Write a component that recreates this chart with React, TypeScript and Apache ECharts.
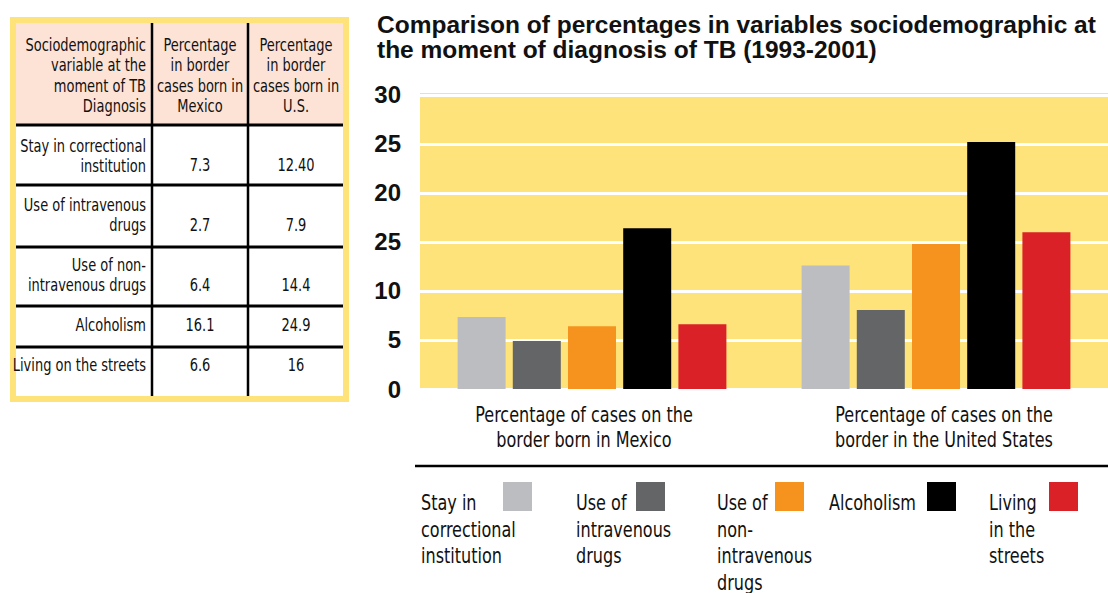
import React, { useEffect, useRef } from "react";
import * as echarts from "echarts";

// ---------- Data ----------
const categories = [
  "Percentage of cases on the\nborder born in Mexico",
  "Percentage of cases on the\nborder in the United States",
];
const seriesNames = [
  "Stay in correctional institution",
  "Use of intravenous drugs",
  "Use of non-intravenous drugs",
  "Alcoholism",
  "Living in the streets",
];
const legendLabels = [
  "Stay in\ncorrectional\ninstitution",
  "Use of\nintravenous\ndrugs",
  "Use of\nnon-\nintravenous\ndrugs",
  "Alcoholism",
  "Living\nin the\nstreets",
];
const mexicoValues = [7.35, 4.9, 6.4, 16.4, 6.6];
const usValues = [12.6, 8.05, 14.8, 25.2, 16.0];
const yTickValues = [0, 5, 10, 15, 20, 25, 30];
const yTickLabels = ["0", "5", "10", "25", "20", "25", "30"];

const titleText =
  "Comparison of percentages in variables sociodemographic at\nthe moment of diagnosis of TB (1993-2001)";

const tableHeaders = [
  "Sociodemographic\nvariable at the\nmoment of TB\nDiagnosis",
  "Percentage\nin border\ncases born in\nMexico",
  "Percentage\nin border\ncases born in\nU.S.",
];
const tableRowLabels = [
  "Stay in correctional\ninstitution",
  "Use of intravenous\ndrugs",
  "Use of non-\nintravenous drugs",
  "Alcoholism",
  "Living on the streets",
];
const tableMexico = ["7.3", "2.7", "6.4", "16.1", "6.6"];
const tableUS = ["12.40", "7.9", "14.4", "24.9", "16"];

// ---------- Styles ----------
const colors = ["#BCBDC0", "#646567", "#F6931F", "#000000", "#DA2128"];
const NARROW = "'Liberation Sans Narrow', 'DejaVu Sans Condensed', 'Roboto', sans-serif";
const BOLD = "'Liberation Sans', 'DejaVu Sans', sans-serif";
const SX = 0.85;

function narrowText(x: number, y: number, text: string, style: any): any {
  return {
    type: "text",
    x,
    y,
    scaleX: SX,
    style: { fontFamily: NARROW, fill: "#111", text, ...style },
  };
}

function buildTable(): any[] {
  const els: any[] = [];
  els.push({ type: "rect", shape: { x: 10, y: 17, width: 339, height: 385 }, style: { fill: "#FEE37A" } });
  els.push({ type: "rect", shape: { x: 16, y: 23, width: 327, height: 373 }, style: { fill: "#FFFFFF" } });
  els.push({ type: "rect", shape: { x: 16, y: 23, width: 327, height: 102 }, style: { fill: "#FDE3D6" } });
  const rowLines = [125, 185, 247, 306, 347];
  rowLines.forEach((y) =>
    els.push({ type: "line", shape: { x1: 16, y1: y, x2: 343, y2: y }, style: { stroke: "#000", lineWidth: 3 } })
  );
  [152, 248].forEach((x) =>
    els.push({ type: "line", shape: { x1: x, y1: 23, x2: x, y2: 396 }, style: { stroke: "#000", lineWidth: 2.5 } })
  );
  const font = { fontSize: 17, lineHeight: 20.3 };
  els.push(narrowText(146, 35, tableHeaders[0], { ...font, align: "right", verticalAlign: "top" }));
  els.push(narrowText(200, 35, tableHeaders[1], { ...font, align: "center", verticalAlign: "top" }));
  els.push(narrowText(296, 35, tableHeaders[2], { ...font, align: "center", verticalAlign: "top" }));
  const labelTops = [136, 195, 255, 315, 355];
  const valueY = [165, 225, 285, 325, 365];
  tableRowLabels.forEach((lab, i) => {
    els.push(narrowText(146, labelTops[i], lab, { ...font, align: "right", verticalAlign: "top" }));
    els.push(narrowText(200, valueY[i], tableMexico[i], { ...font, align: "center", verticalAlign: "middle" }));
    els.push(narrowText(296, valueY[i], tableUS[i], { ...font, align: "center", verticalAlign: "middle" }));
  });
  return els;
}

function buildCategoryLabels(): any[] {
  const centers = [584, 944];
  return categories.map((c, i) =>
    narrowText(centers[i], 402, c, { fontSize: 21, lineHeight: 25.5, align: "center", verticalAlign: "top" })
  );
}

function buildLegend(): any[] {
  const els: any[] = [];
  const textX = [421, 576, 717, 829, 989];
  const boxX = [503, 636, 775, 927, 1049];
  legendLabels.forEach((lab, i) => {
    els.push({ type: "rect", shape: { x: boxX[i], y: 482, width: 29, height: 29 }, style: { fill: colors[i] } });
    els.push(narrowText(textX[i], 490, lab, { fontSize: 21, lineHeight: 26.5, align: "left", verticalAlign: "top" }));
  });
  return els;
}

export default function App() {
  const ref = useRef<HTMLDivElement>(null);
  useEffect(() => {
    if (!ref.current) return;
    const chart = echarts.init(ref.current, undefined, { renderer: "svg" });
    const option: any = {
      animation: false,
      backgroundColor: "#FFFFFF",
      title: {
        text: titleText,
        left: 372,
        top: 7,
        textStyle: { fontFamily: BOLD, fontWeight: "bold", fontSize: 24.5, lineHeight: 25, color: "#111" },
      },
      grid: {
        left: 420,
        right: -5,
        top: 91,
        bottom: 204,
        show: true,
        backgroundColor: "#FEE37A",
        borderWidth: 0,
        containLabel: false,
      },
      xAxis: {
        type: "category",
        data: categories,
        axisLine: { show: false },
        axisTick: { show: false },
        axisLabel: { show: false },
      },
      yAxis: {
        type: "value",
        min: 0,
        max: 30.4,
        interval: 5,
        axisLine: { show: false },
        axisTick: { show: false },
        splitLine: { show: true, lineStyle: { color: "#FFFFFF", width: 3 } },
        axisLabel: {
          margin: 19,
          fontFamily: BOLD,
          fontWeight: "bold",
          fontSize: 24,
          color: "#111",
          formatter: (v: number) => {
            const idx = yTickValues.indexOf(Math.round(v * 100) / 100);
            return idx >= 0 ? yTickLabels[idx] : "";
          },
        },
      },
      series: seriesNames.map((name, i) => ({
        name,
        type: "bar",
        data: [mexicoValues[i], usValues[i]],
        barWidth: 48,
        barGap: "15%",
        itemStyle: { color: colors[i] },
      })),
      graphic: [
        ...buildTable(),
        ...buildCategoryLabels(),
        { type: "line", shape: { x1: 415, y1: 466, x2: 1108, y2: 466 }, style: { stroke: "#000", lineWidth: 2.5 } },
        ...buildLegend(),
      ],
    };
    chart.setOption(option);
    return () => chart.dispose();
  }, []);
  return (
    <div
      ref={ref}
      style={{ position: "absolute", left: 0, top: 0, width: 1108, height: 593 }}
    />
  );
}
